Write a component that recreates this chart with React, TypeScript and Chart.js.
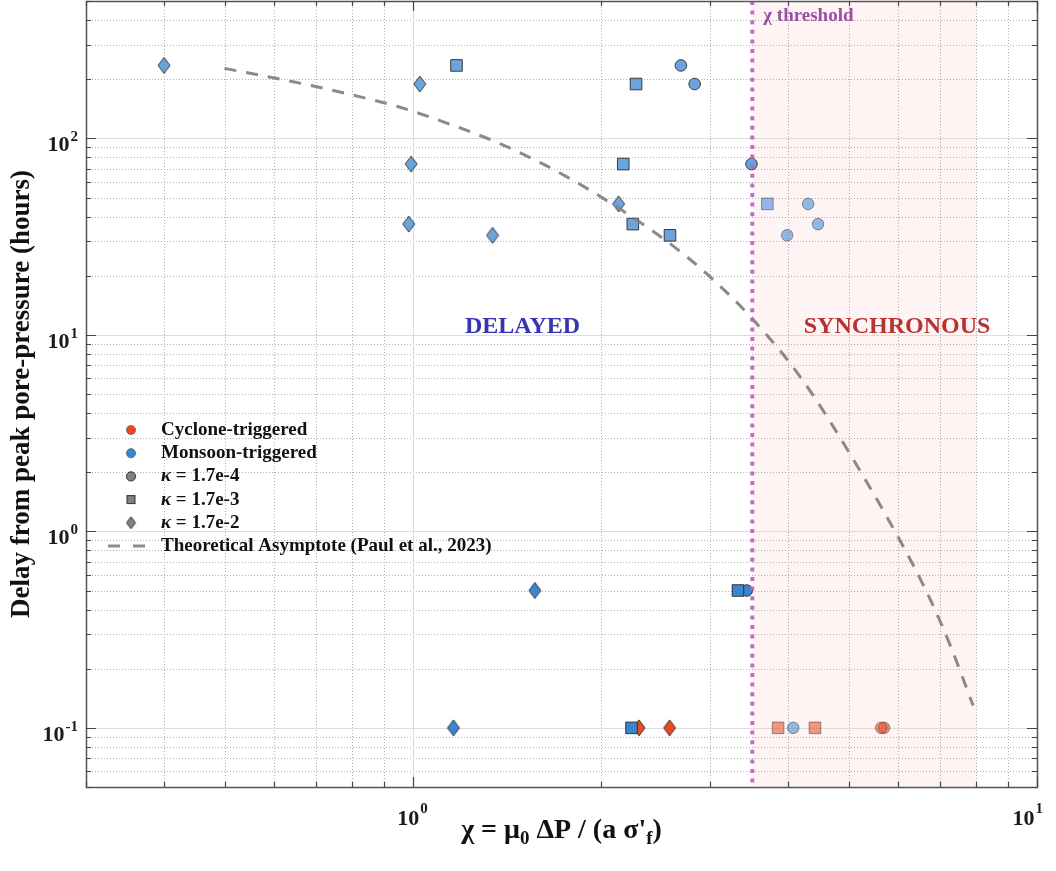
import React, { useEffect, useRef } from 'react';
import { Chart, registerables } from 'chart.js';

Chart.register(...registerables);

// ---------------- data ----------------
const CHI_THRESHOLD = 3.5;
const SYNC_ZONE = [3.5, 8];
const X_LIMITS = [0.3, 10];
const Y_LIMITS = [0.05, 500];

// Monsoon-triggered events (kappa = 1.7e-4 circles, 1.7e-3 squares, 1.7e-2 diamonds)
const monsoonCircleChi = [2.69, 2.83, 3.49, 4.3, 4.46, 3.98, 3.43, 4.07];
const monsoonCircleDelay = [235, 189, 74, 46.4, 36.6, 32.1, 0.5, 0.1];
const monsoonSquareChi = [1.176, 2.28, 2.175, 3.7, 2.253, 2.584, 3.32, 2.242];
const monsoonSquareDelay = [235, 189, 74, 46.4, 36.6, 32.1, 0.5, 0.1];
const monsoonDiamondChi = [0.4, 1.027, 0.995, 2.138, 0.986, 1.343, 1.57, 1.163];
const monsoonDiamondDelay = [235, 189, 74, 46.4, 36.6, 32.1, 0.5, 0.1];

// Cyclone-triggered events
const cycloneCircleChi = [5.69, 5.63];
const cycloneCircleDelay = [0.1, 0.1];
const cycloneSquareChi = [3.85, 4.41];
const cycloneSquareDelay = [0.1, 0.1];
const cycloneDiamondChi = [2.305, 2.58];
const cycloneDiamondDelay = [0.1, 0.1];

// Theoretical asymptote (Paul et al., 2023)
const asymptoteChi = [0.5, 0.605, 0.676, 0.803, 0.955, 1.148, 1.38, 1.64, 1.945, 2.285, 2.65, 3.03, 3.49, 4.18, 5.02, 6.34, 6.9, 7.29, 7.9];
const asymptoteDelay = [227, 202, 188, 166, 144, 118, 94, 72.4, 53.3, 38.4, 27.4, 19.1, 12.2, 6.1, 2.47, 0.67, 0.385, 0.255, 0.13];

// Tick labels
const xTickDecades = [1, 10];
const xTickExponents = ['0', '1'];
const yTickDecades = [0.1, 1, 10, 100];
const yTickExponents = ['-1', '0', '1', '2'];

const legendLabels = [
  'Cyclone-triggered',
  'Monsoon-triggered',
  'κ = 1.7e-4',
  'κ = 1.7e-3',
  'κ = 1.7e-2',
  'Theoretical Asymptote (Paul et al., 2023)',
];

// ---------------- styling helpers ----------------
const FONT = '"Liberation Serif", "Times New Roman", "DejaVu Serif", serif';
const BLUE = [58, 133, 207];
const RED = [230, 75, 35];
const EDGE = [35, 35, 35];
const rgba = (c: number[], a: number) => `rgba(${c[0]},${c[1]},${c[2]},${a})`;

function alphaFor(chi: number, delay: number) {
  if (chi >= CHI_THRESHOLD) return 0.55;
  return delay >= 1 ? 0.75 : 1;
}
function edgeFor(a: number) {
  return rgba(EDGE, a < 0.7 ? 0.45 : 0.85);
}

const diamondCache = new Map<string, HTMLCanvasElement>();
function diamond(fill: string, edge: string, hw = 6, hh = 8) {
  const key = `${fill}|${edge}|${hw}|${hh}`;
  let c = diamondCache.get(key);
  if (!c) {
    c = document.createElement('canvas');
    c.width = 2 * hw + 2;
    c.height = 2 * hh + 2;
    const g = c.getContext('2d')!;
    g.beginPath();
    g.moveTo(hw + 1, 1);
    g.lineTo(2 * hw + 1, hh + 1);
    g.lineTo(hw + 1, 2 * hh + 1);
    g.lineTo(1, hh + 1);
    g.closePath();
    g.fillStyle = fill;
    g.fill();
    g.lineWidth = 1;
    g.strokeStyle = edge;
    g.stroke();
    diamondCache.set(key, c);
  }
  return c;
}

const zip = (xs: number[], ys: number[]) => xs.map((x, i) => ({ x, y: ys[i] }));

function markerDataset(label: string, xs: number[], ys: number[], base: number[], shape: string, order: number) {
  const fill = (c: any) => {
    const r = c.raw;
    const a = r ? alphaFor(r.x, r.y) : 1;
    return rgba(base, a);
  };
  const edge = (c: any) => {
    const r = c.raw;
    const a = r ? alphaFor(r.x, r.y) : 1;
    return edgeFor(a);
  };
  const ds: any = {
    label,
    data: zip(xs, ys),
    order,
    showLine: false,
    backgroundColor: fill,
    borderColor: edge,
    borderWidth: 1,
  };
  if (shape === 'circle') {
    ds.pointStyle = 'circle';
    ds.pointRadius = 5.8;
  } else if (shape === 'rect') {
    ds.pointStyle = 'rect';
    ds.pointRadius = 8.2;
  } else {
    ds.pointRadius = 7;
    ds.pointStyle = (c: any) => {
      const r = c.raw;
      const a = r ? alphaFor(r.x, r.y) : 1;
      return diamond(rgba(base, a), edgeFor(a));
    };
  }
  return ds;
}

function logTicks(min: number, max: number) {
  const out: { v: number; major: boolean }[] = [];
  for (let d = Math.floor(Math.log10(min)); d <= Math.ceil(Math.log10(max)); d++) {
    for (let m = 1; m <= 9; m++) {
      const v = m * Math.pow(10, d);
      if (v >= min * 0.9999 && v <= max * 1.0001) out.push({ v, major: m === 1 });
    }
  }
  return out;
}

function drawSegments(ctx: CanvasRenderingContext2D, segs: { t: string; font: string; dy?: number }[], cx: number, baseline: number) {
  let total = 0;
  segs.forEach((s) => {
    ctx.font = s.font;
    total += ctx.measureText(s.t).width;
  });
  let x = cx - total / 2;
  ctx.textAlign = 'left';
  ctx.textBaseline = 'alphabetic';
  segs.forEach((s) => {
    ctx.font = s.font;
    ctx.fillText(s.t, x, baseline + (s.dy || 0));
    x += ctx.measureText(s.t).width;
  });
}

const axesPlugin = {
  id: 'matlabAxes',
  beforeDatasetsDraw(chart: any) {
    const { ctx, chartArea: a, scales } = chart;
    const xs = scales.x, ys = scales.y;
    ctx.save();
    // synchronous zone shading
    const z1 = xs.getPixelForValue(SYNC_ZONE[0]);
    const z2 = xs.getPixelForValue(SYNC_ZONE[1]);
    ctx.fillStyle = 'rgb(255,244,244)';
    ctx.fillRect(z1, a.top, z2 - z1, a.bottom - a.top);

    // grid
    const xt = logTicks(X_LIMITS[0], X_LIMITS[1]);
    const yt = logTicks(Y_LIMITS[0], Y_LIMITS[1]);
    ctx.lineWidth = 1;
    // minor dotted
    ctx.setLineDash([1, 2]);
    ctx.strokeStyle = 'rgba(150,150,150,0.75)';
    xt.filter((t) => !t.major).forEach((t) => {
      const p = Math.round(xs.getPixelForValue(t.v)) + 0.5;
      if (p <= a.left + 1 || p >= a.right - 1) return;
      ctx.beginPath(); ctx.moveTo(p, a.top); ctx.lineTo(p, a.bottom); ctx.stroke();
    });
    yt.filter((t) => !t.major).forEach((t) => {
      const p = Math.round(ys.getPixelForValue(t.v)) + 0.5;
      if (p <= a.top + 1 || p >= a.bottom - 1) return;
      ctx.beginPath(); ctx.moveTo(a.left, p); ctx.lineTo(a.right, p); ctx.stroke();
    });
    // major solid
    ctx.setLineDash([]);
    ctx.strokeStyle = 'rgb(220,220,220)';
    xt.filter((t) => t.major).forEach((t) => {
      const p = Math.round(xs.getPixelForValue(t.v)) + 0.5;
      if (p <= a.left + 1 || p >= a.right - 1) return;
      ctx.beginPath(); ctx.moveTo(p, a.top); ctx.lineTo(p, a.bottom); ctx.stroke();
    });
    yt.filter((t) => t.major).forEach((t) => {
      const p = Math.round(ys.getPixelForValue(t.v)) + 0.5;
      if (p <= a.top + 1 || p >= a.bottom - 1) return;
      ctx.beginPath(); ctx.moveTo(a.left, p); ctx.lineTo(a.right, p); ctx.stroke();
    });

    // region labels
    ctx.textAlign = 'center';
    ctx.textBaseline = 'middle';
    ctx.font = `bold 24px ${FONT}`;
    ctx.fillStyle = '#3535b3';
    ctx.fillText('DELAYED', xs.getPixelForValue(1.5), ys.getPixelForValue(11));
    ctx.fillStyle = '#b83232';
    ctx.fillText('SYNCHRONOUS', xs.getPixelForValue(5.97), ys.getPixelForValue(11));
    ctx.restore();
  },
  afterDatasetsDraw(chart: any) {
    const { ctx, chartArea: a, scales } = chart;
    const xs = scales.x, ys = scales.y;
    ctx.save();
    // threshold label
    ctx.font = `bold 19px ${FONT}`;
    ctx.fillStyle = '#9a4fa6';
    ctx.textAlign = 'left';
    ctx.textBaseline = 'alphabetic';
    ctx.fillText('χ threshold', xs.getPixelForValue(CHI_THRESHOLD) + 11, a.top + 20);

    // axes box
    ctx.strokeStyle = '#555';
    ctx.lineWidth = 1.5;
    ctx.strokeRect(Math.round(a.left) + 0.5, Math.round(a.top) + 0.5, Math.round(a.right - a.left), Math.round(a.bottom - a.top));

    // tick marks (inward, all four sides)
    ctx.lineWidth = 1.2;
    ctx.strokeStyle = '#444';
    logTicks(X_LIMITS[0], X_LIMITS[1]).forEach((t) => {
      const p = Math.round(xs.getPixelForValue(t.v)) + 0.5;
      const len = t.major ? 10 : 5;
      ctx.beginPath();
      ctx.moveTo(p, a.bottom); ctx.lineTo(p, a.bottom - len);
      ctx.moveTo(p, a.top); ctx.lineTo(p, a.top + len);
      ctx.stroke();
    });
    logTicks(Y_LIMITS[0], Y_LIMITS[1]).forEach((t) => {
      const p = Math.round(ys.getPixelForValue(t.v)) + 0.5;
      const len = t.major ? 10 : 5;
      ctx.beginPath();
      ctx.moveTo(a.left, p); ctx.lineTo(a.left + len, p);
      ctx.moveTo(a.right, p); ctx.lineTo(a.right - len, p);
      ctx.stroke();
    });

    // tick labels
    const big = `bold 22px ${FONT}`;
    const sup = `bold 15px ${FONT}`;
    ctx.fillStyle = '#1a1a1a';
    ctx.textBaseline = 'alphabetic';
    ctx.textAlign = 'left';
    yTickDecades.forEach((v, i) => {
      const p = ys.getPixelForValue(v);
      ctx.font = big;
      const w1 = ctx.measureText('10').width;
      ctx.font = sup;
      const w2 = ctx.measureText(yTickExponents[i]).width;
      const right = a.left - 8;
      ctx.font = big;
      ctx.fillText('10', right - w2 - w1 - 1, p + 13);
      ctx.font = sup;
      ctx.fillText(yTickExponents[i], right - w2, p + 3);
    });
    xTickDecades.forEach((v, i) => {
      const p = xs.getPixelForValue(v);
      ctx.font = big;
      const w1 = ctx.measureText('10').width;
      ctx.font = sup;
      const w2 = ctx.measureText(xTickExponents[i]).width;
      const w = w1 + w2 + 1;
      let left = p - w / 2;
      if (left + w > a.right + 6) left = a.right + 6 - w;
      ctx.font = big;
      ctx.fillText('10', left, a.bottom + 38);
      ctx.font = sup;
      ctx.fillText(xTickExponents[i], left + w1 + 1, a.bottom + 26);
    });

    // axis titles
    ctx.fillStyle = '#111';
    const tf = `bold 27px ${FONT}`;
    const xf = `bold 28px ${FONT}`;
    const sf = `bold 19px ${FONT}`;
    drawSegments(ctx, [
      { t: 'χ = μ', font: xf },
      { t: '0', font: sf, dy: 6 },
      { t: ' ΔP / (a σ\'', font: xf },
      { t: 'f', font: sf, dy: 6 },
      { t: ')', font: xf },
    ], (a.left + a.right) / 2, a.bottom + 51);

    ctx.save();
    ctx.translate(22, (a.top + a.bottom) / 2);
    ctx.rotate(-Math.PI / 2);
    ctx.textAlign = 'center';
    ctx.textBaseline = 'middle';
    ctx.font = tf;
    ctx.fillText('Delay from peak pore-pressure (hours)', 0, 0);
    ctx.restore();

    // legend
    const mx = 131, tx = 161, y0 = 430, dy = 23.2;
    legendLabels.forEach((lab, i) => {
      const yy = y0 + i * dy;
      ctx.save();
      ctx.lineWidth = 1;
      if (i <= 2) {
        const col = i === 0 ? rgba(RED, 1) : i === 1 ? rgba(BLUE, 1) : 'rgb(128,128,128)';
        ctx.beginPath();
        ctx.arc(mx, yy, 4.6, 0, Math.PI * 2);
        ctx.fillStyle = col;
        ctx.fill();
        ctx.strokeStyle = i === 2 ? '#333' : 'rgba(60,60,60,0.5)';
        ctx.stroke();
      } else if (i === 3) {
        ctx.fillStyle = 'rgb(128,128,128)';
        ctx.fillRect(mx - 4, yy - 4, 8, 8);
        ctx.strokeStyle = '#333';
        ctx.strokeRect(mx - 4, yy - 4, 8, 8);
      } else if (i === 4) {
        ctx.drawImage(diamond('rgb(128,128,128)', '#333', 4.5, 6), mx - 5.5, yy - 7);
      } else {
        ctx.strokeStyle = 'rgb(140,140,140)';
        ctx.lineWidth = 3;
        ctx.setLineDash([12, 13]);
        ctx.beginPath();
        ctx.moveTo(108, yy);
        ctx.lineTo(146, yy);
        ctx.stroke();
      }
      ctx.restore();
      ctx.fillStyle = '#111';
      ctx.textAlign = 'left';
      ctx.textBaseline = 'middle';
      if (lab.startsWith('κ')) {
        ctx.font = `italic bold 19px ${FONT}`;
        ctx.fillText('κ', tx, yy);
        const w = ctx.measureText('κ').width;
        ctx.font = `bold 19px ${FONT}`;
        ctx.fillText(lab.slice(1), tx + w, yy);
      } else {
        ctx.font = `bold 19px ${FONT}`;
        ctx.fillText(lab, tx, yy);
      }
    });
    ctx.restore();
  },
};

export default function App() {
  const ref = useRef<HTMLCanvasElement>(null);
  useEffect(() => {
    if (!ref.current) return;
    const datasets: any[] = [
      {
        label: 'χ threshold',
        data: [{ x: CHI_THRESHOLD, y: Y_LIMITS[1] }, { x: CHI_THRESHOLD, y: Y_LIMITS[0] }],
        showLine: true,
        pointRadius: 0,
        borderColor: 'rgba(183,100,192,0.92)',
        borderWidth: 4,
        borderDash: [4, 5.6],
        borderCapStyle: 'butt',
        order: 0,
      },
      {
        label: 'Theoretical Asymptote (Paul et al., 2023)',
        data: zip(asymptoteChi, asymptoteDelay),
        showLine: true,
        pointRadius: 0,
        borderColor: 'rgba(128,128,128,0.92)',
        borderWidth: 3,
        borderDash: [12, 10],
        cubicInterpolationMode: 'monotone',
        order: 1,
      },
      markerDataset('Monsoon κ=1.7e-3', monsoonSquareChi, monsoonSquareDelay, BLUE, 'rect', 2),
      markerDataset('Monsoon κ=1.7e-2', monsoonDiamondChi, monsoonDiamondDelay, BLUE, 'diamond', 3),
      markerDataset('Monsoon κ=1.7e-4', monsoonCircleChi, monsoonCircleDelay, BLUE, 'circle', 4),
      markerDataset('Cyclone κ=1.7e-3', cycloneSquareChi, cycloneSquareDelay, RED, 'rect', 5),
      markerDataset('Cyclone κ=1.7e-2', cycloneDiamondChi, cycloneDiamondDelay, RED, 'diamond', 6),
      markerDataset('Cyclone κ=1.7e-4', cycloneCircleChi, cycloneCircleDelay, RED, 'circle', 7),
    ];
    const chart = new Chart(ref.current, {
      type: 'scatter',
      data: { datasets },
      options: {
        animation: false,
        responsive: false,
        devicePixelRatio: 1,
        events: [],
        layout: { autoPadding: false, padding: { left: 86, top: 1, right: 19, bottom: 84 } },
        scales: {
          x: { type: 'logarithmic', min: X_LIMITS[0], max: X_LIMITS[1], display: false },
          y: { type: 'logarithmic', min: Y_LIMITS[0], max: Y_LIMITS[1], display: false },
        },
        plugins: { legend: { display: false }, tooltip: { enabled: false } },
      } as any,
      plugins: [axesPlugin as any],
    });
    return () => chart.destroy();
  }, []);
  return (
    <div style={{ position: 'absolute', left: 0, top: 0, width: 1056, height: 871, background: '#fff' }}>
      <canvas ref={ref} width={1056} height={871} style={{ width: 1056, height: 871, display: 'block' }} />
    </div>
  );
}
